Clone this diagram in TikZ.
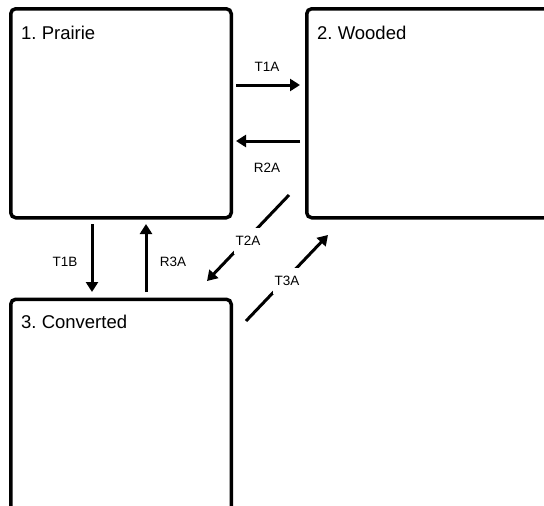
\documentclass[tikz,border=0pt]{standalone}
\usepackage{fontspec}
\setmainfont{Liberation Sans}
\usetikzlibrary{arrows.meta}
\frenchspacing
\begin{document}
\begin{tikzpicture}[x=1pt,y=-1pt,
  box/.style={draw=black,line width=3.5pt,rounded corners=5pt,inner sep=0pt,anchor=north west},
  ttl/.style={font=\fontsize{18.5}{22}\selectfont,anchor=base west,inner sep=0pt},
  lbl/.style={font=\fontsize{13.5}{16}\selectfont,inner sep=1.5pt},
  gaplbl/.style={lbl,fill=white,inner xsep=2pt,inner ysep=0pt,minimum height=26pt},
  arr/.style={line width=3pt,-{Triangle[length=10pt,width=12pt]}}]
\useasboundingbox (0,0) rectangle (544,506);
\clip (0,0) rectangle (544,506);
% boxes
\node[box,minimum width=220.5pt,minimum height=209pt] (P) at (9,7) {};
\node[box,minimum width=300pt,minimum height=209pt] (W) at (305,7) {};
\node[box,minimum width=220.5pt,minimum height=300pt] (C) at (9,297.5) {};
% titles
\node[ttl] (Pt) at (21,39) {1. Prairie};
\node[ttl] (Wt) at (317,39) {2. Wooded};
\node[ttl] (Ct) at (21,328) {3. Converted};
% arrow end points
\coordinate (a1s) at (236,85);  \coordinate (a1e) at (300,85);
\coordinate (a2s) at (300,141); \coordinate (a2e) at (236,141);
\coordinate (a3s) at (92,224);  \coordinate (a3e) at (92,292);
\coordinate (a4s) at (146,292); \coordinate (a4e) at (146,224);
\coordinate (a5s) at (289,195); \coordinate (a5e) at (207,281);
\coordinate (a6s) at (246,321); \coordinate (a6e) at (328,235);
% arrows
\draw[arr] (a1s) -- (a1e);
\draw[arr] (a2s) -- (a2e);
\draw[arr] (a3s) -- (a3e);
\draw[arr] (a4s) -- (a4e);
\draw[arr] (a5s) -- (a5e);
\draw[arr] (a6s) -- (a6e);
% labels
\node[lbl] (l1) at (267,67) {T1A};
\node[lbl] (l2) at (267,168) {R2A};
\node[lbl] (l3) at (65,262) {T1B};
\node[lbl] (l4) at (173,262) {R3A};
\node[gaplbl] (l5) at (248,240.5) {T2A};
\node[gaplbl] (l6) at (287,280.5) {T3A};
\end{tikzpicture}
\end{document}
